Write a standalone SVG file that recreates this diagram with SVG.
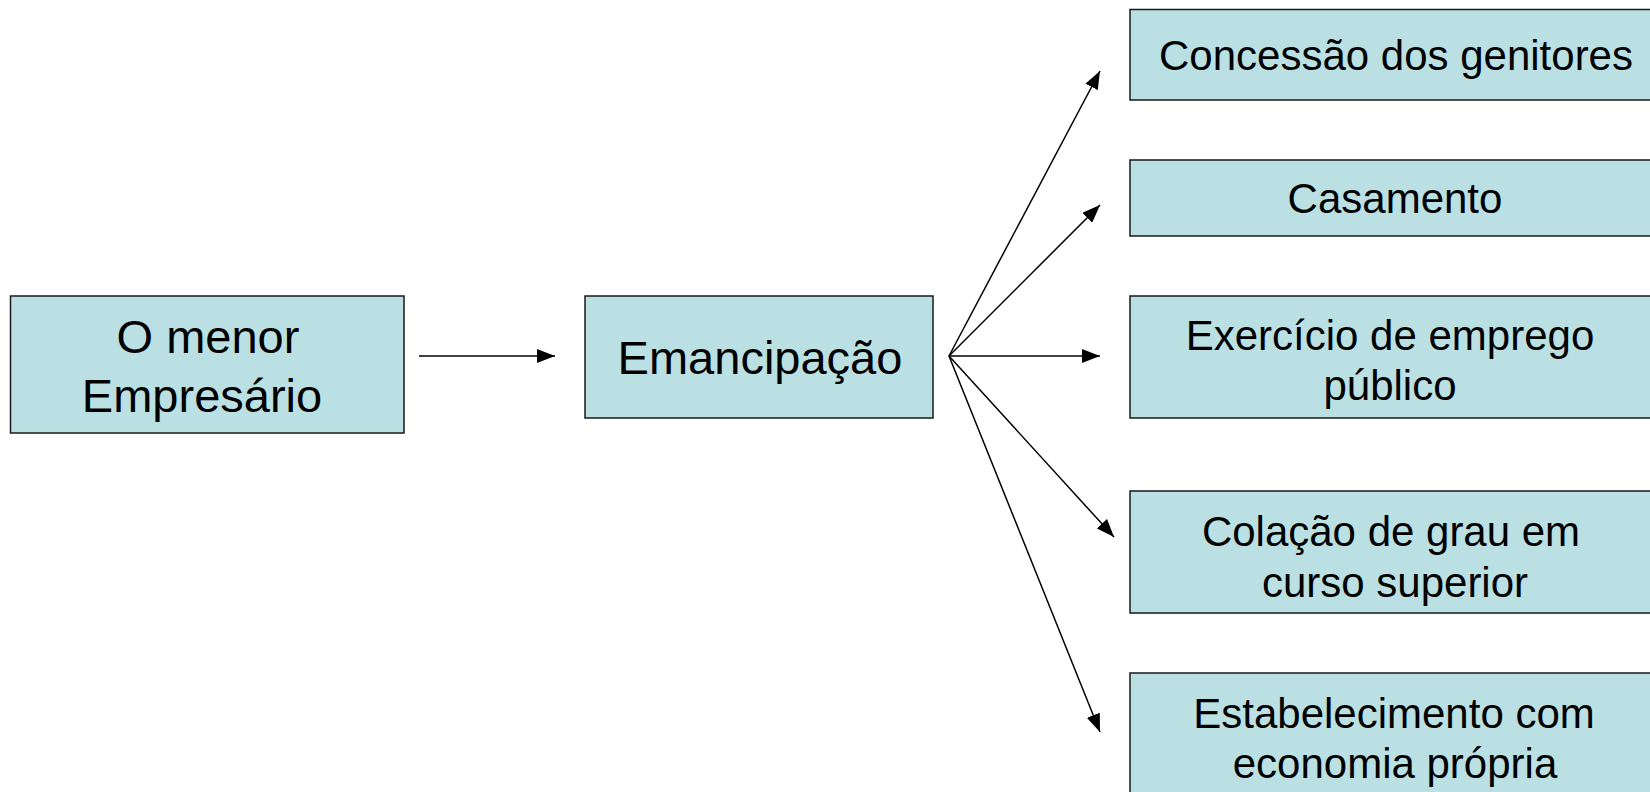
<svg xmlns="http://www.w3.org/2000/svg" width="1650" height="792" viewBox="0 0 1650 792">
<style>
.box{fill:#BAE0E3;stroke:#1a1a1a;stroke-width:1.5}
.t{font-family:"Liberation Sans",Arial,sans-serif;fill:#000;text-anchor:middle}
.big{font-size:47px}
.sm{font-size:42px}
.c{stroke:#000;stroke-width:1.5;fill:none;marker-end:url(#ah)}
</style>
<defs>
<marker id="ah" markerUnits="userSpaceOnUse" markerWidth="18" markerHeight="14" viewBox="0 0 18 14" refX="18" refY="7" orient="auto">
<path d="M0,0 L18,7 L0,14 Z" fill="#000"/>
</marker>
</defs>
<rect width="1650" height="792" fill="#fff"/>
<g id="connectors">
<path class="c" d="M419,356 L555,356"/>
<path class="c" d="M949,356 L1100,71"/>
<path class="c" d="M949,356 L1100,205"/>
<path class="c" d="M949,356 L1100,356"/>
<path class="c" d="M949,356 L1114,537"/>
<path class="c" d="M949,356 L1100,732"/>
</g>
<g id="n-menor">
<rect class="box" x="10.5" y="296" width="393.5" height="137"/>
<text class="t big" x="208" y="353">O menor</text>
<text class="t big" x="202" y="412">Empresário</text>
</g>
<g id="n-emancipacao">
<rect class="box" x="585" y="296" width="348" height="122"/>
<text class="t big" x="760" y="374">Emancipação</text>
</g>
<g id="n-concessao">
<rect class="box" x="1130" y="9.5" width="530" height="90.5"/>
<text class="t sm" x="1396" y="70">Concessão dos genitores</text>
</g>
<g id="n-casamento">
<rect class="box" x="1130" y="160" width="530" height="76"/>
<text class="t sm" x="1395" y="213">Casamento</text>
</g>
<g id="n-exercicio">
<rect class="box" x="1130" y="296" width="530" height="122"/>
<text class="t sm" x="1390" y="350">Exercício de emprego</text>
<text class="t sm" x="1390" y="400">público</text>
</g>
<g id="n-colacao">
<rect class="box" x="1130" y="491" width="530" height="122"/>
<text class="t sm" x="1391" y="546">Colação de grau em</text>
<text class="t sm" x="1395" y="597">curso superior</text>
</g>
<g id="n-estabelecimento">
<rect class="box" x="1130" y="673" width="530" height="130"/>
<text class="t sm" x="1394" y="728">Estabelecimento com</text>
<text class="t sm" x="1395" y="778">economia própria</text>
</g>
</svg>
